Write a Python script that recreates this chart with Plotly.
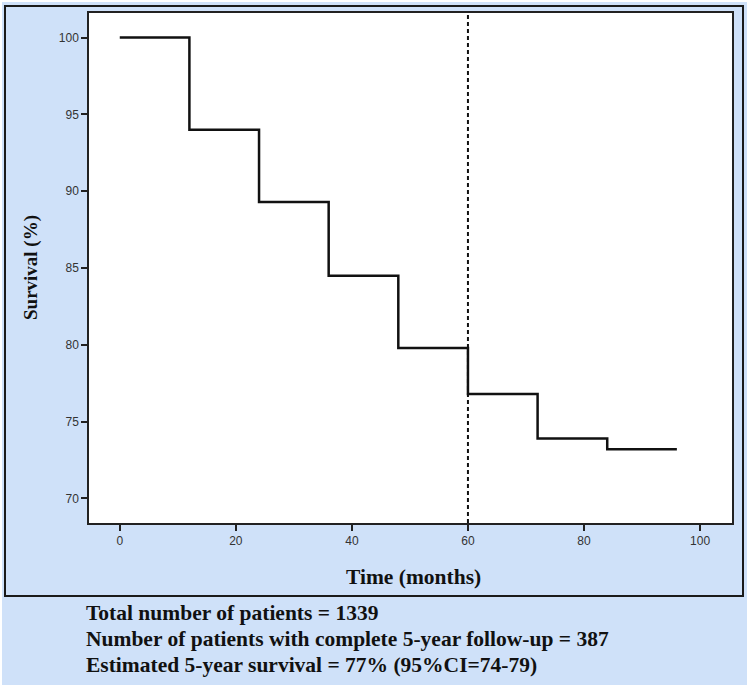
import plotly.graph_objects as go

# Data
step_times = [0, 12, 24, 36, 48, 60, 72, 84, 96]
survival = [100, 94.0, 89.3, 84.5, 79.8, 76.8, 73.9, 73.2, 73.2]
cutoff_month = 60
x_ticks = [0, 20, 40, 60, 80, 100]
y_ticks = [70, 75, 80, 85, 90, 95, 100]
footer_lines = [
    "Total number of patients = 1339",
    "Number of patients with complete 5-year follow-up = 387",
    "Estimated 5-year survival = 77% (95%CI=74-79)",
]

W, H = 750, 690
L, R, T, B = 89, 732, 13, 523  # plot area pixel bounds
pw, ph = R - L, B - T

def px(x):
    return (x - L) / pw

def py(y):
    return (B - y) / ph

serif = "Liberation Serif, Times New Roman, serif"
sans = "Liberation Sans, Arial, sans-serif"

fig = go.Figure()
fig.add_trace(go.Scatter(
    x=step_times, y=survival, mode="lines",
    line=dict(shape="hv", color="#111111", width=2.5),
    showlegend=False, hoverinfo="skip",
))

shapes = [
    # light blue background panel
    dict(type="rect", xref="paper", yref="paper", x0=px(2), x1=px(747), y0=py(685), y1=py(2),
         fillcolor="#cfe1f9", line=dict(width=0), layer="below"),
    # white plotting area
    dict(type="rect", xref="paper", yref="paper", x0=0, x1=1, y0=0, y1=1,
         fillcolor="white", line=dict(width=0), layer="below"),
    # dark frame around chart part
    dict(type="rect", xref="paper", yref="paper", x0=px(5), x1=px(743), y0=py(596), y1=py(6),
         fillcolor="rgba(0,0,0,0)", line=dict(color="#1a1a1a", width=2), layer="below"),
    # vertical dashed line at 60 months
    dict(type="line", xref="x", yref="paper", x0=cutoff_month, x1=cutoff_month, y0=0, y1=1,
         line=dict(color="#111111", width=2, dash="4px,3px")),
]

annotations = [
    dict(text="<b>Survival (%)</b>", xref="paper", yref="paper", x=px(31), y=py(268),
         xanchor="center", yanchor="middle", textangle=-90, showarrow=False,
         font=dict(family=serif, size=19, color="#111111")),
    dict(text="<b>Time (months)</b>", xref="paper", yref="paper", x=px(413), y=py(577),
         xanchor="center", yanchor="middle", showarrow=False,
         font=dict(family=serif, size=21.5, color="#111111")),
]
for i, line in enumerate(footer_lines):
    annotations.append(dict(
        text=f"<b>{line}</b>", xref="paper", yref="paper", x=px(84), y=py(613 + 26 * i),
        xanchor="left", yanchor="middle", showarrow=False,
        font=dict(family=serif, size=21.5, color="#111111")))

fig.update_layout(
    width=W, height=H,
    margin=dict(l=L, r=W - R, t=T, b=H - B, pad=0),
    paper_bgcolor="white", plot_bgcolor="white",
    shapes=shapes, annotations=annotations,
    xaxis=dict(range=[-5.3, 105.5], tickvals=x_ticks, showgrid=False, zeroline=False,
               showline=True, mirror=True, linecolor="#222222", linewidth=1.5,
               ticks="outside", ticklen=6, tickcolor="#222222", tickwidth=1.5,
               tickfont=dict(family=sans, size=12, color="#333333")),
    yaxis=dict(range=[68.4, 101.6], tickvals=y_ticks, showgrid=False, zeroline=False,
               showline=True, mirror=True, linecolor="#222222", linewidth=1.5,
               ticks="outside", ticklen=6, tickcolor="#222222", tickwidth=1.5,
               tickfont=dict(family=sans, size=12, color="#333333")),
)

fig.write_html("out.html", config={"displayModeBar": False},
               post_script="document.body.style.margin='0px';")
